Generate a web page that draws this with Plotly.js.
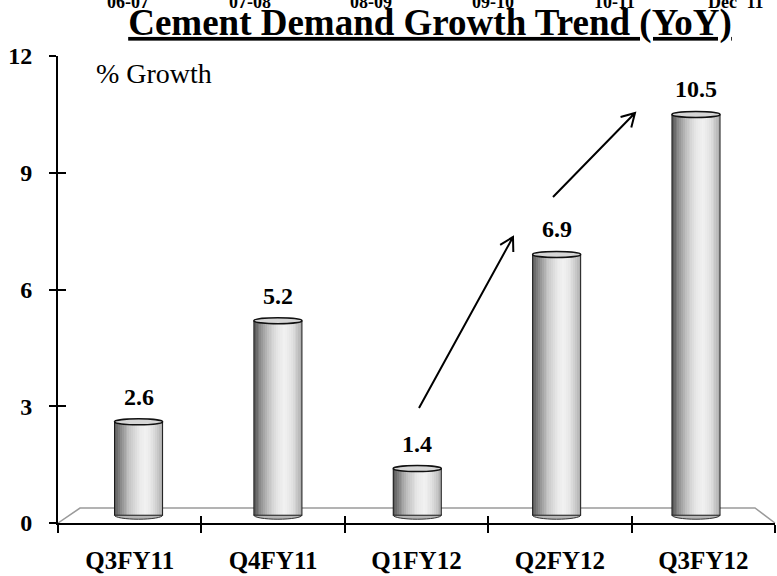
<!DOCTYPE html>
<html>
<head>
<meta charset="utf-8">
<script src="https://cdn.plot.ly/plotly-3.0.1.min.js"></script>
<style>html,body{margin:0;padding:0;background:#fff;}#chart{width:777px;height:576px;}</style>
</head>
<body>
<div id="chart"></div>
<script>
// ---- data ----
const categories = ['Q3FY11', 'Q4FY11', 'Q1FY12', 'Q2FY12', 'Q3FY12'];
const growth = [2.6, 5.2, 1.4, 6.9, 10.5];
const growthLabels = ['2.6', '5.2', '1.4', '6.9', '10.5'];
const yTicks = [0, 3, 6, 9, 12];
const topLabels = ['06-07', '07-08', '08-09', '09-10', '10-11', "Dec' 11"];
const titleText = 'Cement Demand Growth Trend (YoY)';
const unitLabel = '% Growth';

// ---- style / geometry ----
const W = 777, H = 576;
const M = {l: 58, r: 2, t: 56, b: 53};
const PW = W - M.l - M.r, PH = H - M.t - M.b;
const yMax = 12;
const barAxisRange = [-0.578, 4.567];   // perspective-shifted axis for the cylinders
const barW = 0.345;
const floorBase = 0.2;                   // cylinders stand on the middle of the floor
const serif = '"Liberation Serif", "Times New Roman", Times, serif';
const idx = categories.map((_, i) => i);

const px2paperX = p => (p - M.l) / PW;
const px2paperY = p => (H - M.b - p) / PH;

function shade(t) {
  const knots = [[0, 85], [0.12, 135], [0.3, 195], [0.5, 232], [0.65, 242], [0.8, 225], [0.92, 195], [1, 170]];
  for (let k = 1; k < knots.length; k++) {
    if (t <= knots[k][0]) {
      const a = knots[k - 1], b = knots[k];
      const v = Math.round(a[1] + (b[1] - a[1]) * (t - a[0]) / (b[0] - a[0]));
      return `rgb(${v},${v},${v})`;
    }
  }
  return 'rgb(170,170,170)';
}

const boldFont = size => ({family: serif, size: size, color: '#000', weight: 'bold'});

const traces = [];
// category carrier (invisible) for the labelled x axis
traces.push({type: 'scatter', x: categories, y: growth, mode: 'markers',
  marker: {opacity: 0}, hoverinfo: 'skip', showlegend: false, xaxis: 'x', yaxis: 'y'});

// cylinder shading strips
const N = 26;
for (let k = 0; k < N; k++) {
  const t = (k + 0.5) / N;
  traces.push({
    type: 'bar', x: idx, y: growth.map(v => v - floorBase), base: floorBase,
    xaxis: 'x2', yaxis: 'y',
    offset: -barW / 2 + k * barW / N, width: barW / N * 1.08,
    marker: {color: shade(t), line: {width: 0}},
    hoverinfo: 'skip', showlegend: false
  });
}
// outline of cylinders
traces.push({
  type: 'bar', x: idx, y: growth.map(v => v - floorBase), base: floorBase,
  xaxis: 'x2', yaxis: 'y', width: barW,
  marker: {color: 'rgba(0,0,0,0)', line: {color: '#1a1a1a', width: 1}},
  hoverinfo: 'skip', showlegend: false
});
// dummy carriers for tick-only overlay axes
traces.push({type: 'scatter', x: [0], y: [0], xaxis: 'x3', yaxis: 'y', mode: 'markers',
  marker: {opacity: 0}, hoverinfo: 'skip', showlegend: false});
traces.push({type: 'scatter', x: [0], y: [0], xaxis: 'x', yaxis: 'y2', mode: 'markers',
  marker: {opacity: 0}, hoverinfo: 'skip', showlegend: false});

const shapes = [];
// floor
const floorBackY = 0.385;
shapes.push({type: 'path', xref: 'paper', yref: 'y', layer: 'below',
  path: `M 0,0 L ${px2paperX(80)},${floorBackY} L ${px2paperX(755)},${floorBackY} L 1,0`,
  line: {color: '#9a9a9a', width: 1.5}});
// bottom and top ellipses
growth.forEach((v, i) => {
  shapes.push({type: 'circle', xref: 'x2', yref: 'y', layer: 'below',
    x0: i - barW / 2, x1: i + barW / 2, ysizemode: 'pixel', yanchor: floorBase, y0: -4, y1: 4,
    fillcolor: '#b5b5b5', line: {color: '#333', width: 1}});
  shapes.push({type: 'circle', xref: 'x2', yref: 'y', layer: 'above',
    x0: i - barW / 2, x1: i + barW / 2, ysizemode: 'pixel', yanchor: v, y0: -3, y1: 3,
    fillcolor: '#d6d6d6', line: {color: '#111', width: 1.5}});
});
// trend arrows (decorations, in pixels)
const arrows = [[[419, 408], [513, 237]], [[553, 197], [635, 113]]];
arrows.forEach(([tail, head]) => {
  const dx = tail[0] - head[0], dy = tail[1] - head[1];
  const L = Math.hypot(dx, dy), ux = dx / L, uy = dy / L;
  const hl = 15, ang = 30 * Math.PI / 180;
  const rot = a => [head[0] + hl * (ux * Math.cos(a) - uy * Math.sin(a)),
                    head[1] + hl * (ux * Math.sin(a) + uy * Math.cos(a))];
  const p1 = rot(ang), p2 = rot(-ang);
  const P = p => `${px2paperX(p[0])},${px2paperY(p[1])}`;
  shapes.push({type: 'path', xref: 'paper', yref: 'paper', layer: 'above',
    path: `M ${P(tail)} L ${P(head)} M ${P(p1)} L ${P(head)} L ${P(p2)}`,
    line: {color: '#000', width: 2}});
});

const annotations = [];
growth.forEach((v, i) => {
  annotations.push({xref: 'x2', yref: 'y', x: i, y: v, yshift: 25, showarrow: false,
    text: '<b>' + growthLabels[i] + '</b>', font: boldFont(24)});
});
annotations.push({xref: 'paper', yref: 'y', x: px2paperX(94), y: 11.55, xanchor: 'left', yanchor: 'middle',
  showarrow: false, text: unitLabel, font: {family: serif, size: 28, color: '#000'}});
topLabels.forEach((s, i) => {
  annotations.push({xref: 'paper', yref: 'paper', x: px2paperX(128 + 121.6 * i), y: px2paperY(2),
    xanchor: 'center', yanchor: 'middle', showarrow: false, text: '<b>' + s + '</b>',
    font: boldFont(18)});
});

const layout = {
  width: W, height: H, margin: M,
  font: {family: serif, color: '#000'},
  paper_bgcolor: '#fff', plot_bgcolor: 'rgba(0,0,0,0)',
  showlegend: false, barmode: 'overlay', bargap: 0,
  title: {text: '<b>' + titleText + '</b>', xref: 'paper', x: (430 - M.l) / PW, xanchor: 'center',
    yref: 'container', y: 1 - 22 / H, yanchor: 'middle',
    font: {family: serif, size: 37, color: '#000', weight: 'bold', lineposition: 'under'}},
  xaxis: {type: 'category', categoryarray: categories, categoryorder: 'array', range: [-0.5, 4.5],
    showline: true, linecolor: '#000', linewidth: 2, ticks: 'outside', ticklen: 8, tickwidth: 2,
    tickcolor: '#000', tickson: 'boundaries', showgrid: false, zeroline: false, fixedrange: true,
    ticklabelstandoff: 14, tickfont: boldFont(25)},
  xaxis2: {overlaying: 'x', anchor: 'y', range: barAxisRange, visible: false, fixedrange: true},
  xaxis3: {overlaying: 'x', anchor: 'y', range: [-0.5, 4.5], tickvals: [-0.5, 0.5, 1.5, 2.5, 3.5, 4.5],
    ticks: 'inside', ticklen: 7, tickwidth: 2, tickcolor: '#000', showticklabels: false,
    showline: false, showgrid: false, zeroline: false, fixedrange: true},
  yaxis: {range: [0, yMax], tickvals: yTicks, showline: true, linecolor: '#000', linewidth: 2,
    ticks: 'outside', ticklen: 7, tickwidth: 2, tickcolor: '#000', showgrid: false, zeroline: false,
    ticklabelstandoff: 12, fixedrange: true, tickfont: boldFont(24)},
  yaxis2: {overlaying: 'y', anchor: 'x', side: 'left', range: [0, yMax], tickvals: yTicks,
    ticks: 'inside', ticklen: 8, tickwidth: 2, tickcolor: '#000', showticklabels: false,
    showline: false, showgrid: false, zeroline: false, fixedrange: true},
  shapes: shapes, annotations: annotations
};

Plotly.newPlot('chart', traces, layout, {displayModeBar: false, staticPlot: true});
</script>
</body>
</html>
